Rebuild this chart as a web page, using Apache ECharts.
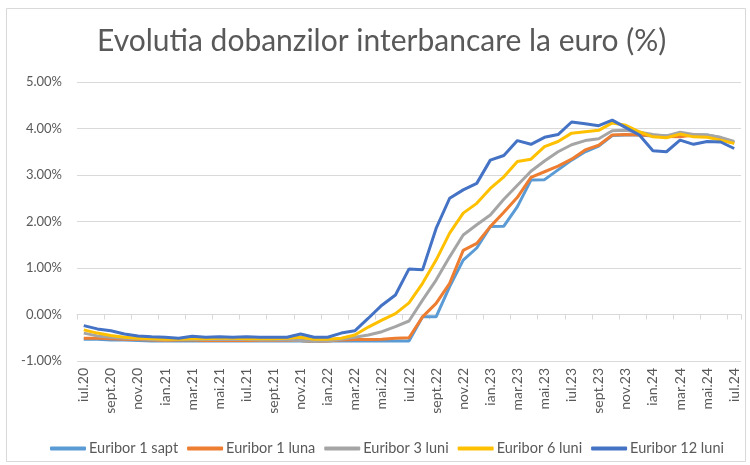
<!DOCTYPE html>
<html>
<head>
<meta charset="utf-8">
<script src="https://cdn.jsdelivr.net/npm/echarts@6/dist/echarts.min.js"></script>
<style>html,body{margin:0;padding:0;background:#fff}#c{width:750px;height:465px}</style>
</head>
<body>
<div id="c"></div>
<script>
const categories = ['iul.20','aug.20','sept.20','oct.20','nov.20','dec.20',
 'ian.21','feb.21','mar.21','apr.21','mai.21','iun.21','iul.21','aug.21','sept.21','oct.21','nov.21','dec.21',
 'ian.22','feb.22','mar.22','apr.22','mai.22','iun.22','iul.22','aug.22','sept.22','oct.22','nov.22','dec.22',
 'ian.23','feb.23','mar.23','apr.23','mai.23','iun.23','iul.23','aug.23','sept.23','oct.23','nov.23','dec.23',
 'ian.24','feb.24','mar.24','apr.24','mai.24','iun.24','iul.24'];

const euribor1Sapt = [-0.53,-0.53,-0.55,-0.55,-0.56,-0.57,-0.57,-0.57,-0.57,-0.57,-0.57,-0.57,-0.57,-0.57,-0.57,-0.57,-0.57,-0.58,
 -0.57,-0.57,-0.57,-0.57,-0.57,-0.57,-0.57,-0.05,-0.05,0.60,1.17,1.43,1.89,1.90,2.32,2.89,2.90,3.11,3.32,3.50,3.62,3.85,3.86,3.86,
 3.84,3.84,3.86,3.86,3.86,3.80,3.70];
const euribor1Luna = [-0.51,-0.51,-0.52,-0.53,-0.54,-0.55,-0.56,-0.55,-0.55,-0.56,-0.56,-0.56,-0.56,-0.56,-0.56,-0.56,-0.56,-0.58,
 -0.57,-0.55,-0.54,-0.54,-0.53,-0.51,-0.50,-0.05,0.24,0.67,1.38,1.53,1.89,2.20,2.52,2.95,3.07,3.19,3.34,3.54,3.64,3.86,3.87,3.86,
 3.85,3.83,3.82,3.86,3.85,3.75,3.69];
const euribor3Luni = [-0.40,-0.46,-0.49,-0.51,-0.52,-0.54,-0.55,-0.54,-0.54,-0.54,-0.54,-0.54,-0.54,-0.55,-0.55,-0.55,-0.56,-0.58,
 -0.57,-0.53,-0.49,-0.44,-0.37,-0.26,-0.14,0.31,0.74,1.24,1.71,1.93,2.14,2.48,2.78,3.08,3.30,3.50,3.65,3.74,3.78,3.95,3.96,3.92,
 3.87,3.84,3.92,3.87,3.86,3.81,3.72];
const euribor6Luni = [-0.33,-0.40,-0.45,-0.49,-0.51,-0.52,-0.53,-0.53,-0.52,-0.52,-0.51,-0.51,-0.52,-0.52,-0.52,-0.51,-0.49,-0.53,
 -0.53,-0.51,-0.44,-0.27,-0.12,0.02,0.25,0.67,1.17,1.75,2.18,2.39,2.71,2.96,3.29,3.34,3.61,3.72,3.90,3.93,3.96,4.12,4.07,3.93,
 3.82,3.80,3.88,3.82,3.81,3.75,3.68];
const euribor12Luni = [-0.24,-0.31,-0.35,-0.42,-0.46,-0.48,-0.49,-0.51,-0.47,-0.49,-0.48,-0.49,-0.48,-0.49,-0.49,-0.49,-0.42,-0.49,
 -0.49,-0.40,-0.35,-0.08,0.20,0.42,0.98,0.96,1.85,2.50,2.68,2.82,3.32,3.42,3.74,3.66,3.81,3.87,4.14,4.10,4.06,4.18,4.02,3.86,
 3.52,3.50,3.75,3.66,3.72,3.71,3.57];

const seriesNames = ['Euribor 1 sapt','Euribor 1 luna','Euribor 3 luni','Euribor 6 luni','Euribor 12 luni'];
const seriesData = [euribor1Sapt, euribor1Luna, euribor3Luni, euribor6Luni, euribor12Luni];
const colors = ['#5B9BD5','#ED7D31','#A5A5A5','#FFC000','#4472C4'];

const FONT = 'Lato, "Open Sans", sans-serif';
const chart = echarts.init(document.getElementById('c'), null, {renderer:'canvas'});
chart.setOption({
  animation:false,
  backgroundColor:'#fff',
  color: colors,
  title:{
    text:'Evolutia dobanzilor interbancare la euro (%)',
    left:97, top:26, padding:0,
    textStyle:{fontFamily:FONT, fontSize:30, fontWeight:'normal', color:'#595959'}
  },
  graphic:[{type:'rect', shape:{x:6.5,y:8.5,width:739,height:453}, style:{fill:null, stroke:'#d9d9d9', lineWidth:1}, silent:true}],
  legend:{
    bottom:4, left:45,
    icon:'roundRect', itemWidth:36, itemHeight:4, itemGap:9,
    textStyle:{fontFamily:FONT, fontSize:14.5, color:'#595959', padding:[0,0,0,-2]},
    data: seriesNames
  },
  grid:{left:77, right:9, top:82, bottom:104, containLabel:false},
  xAxis:{
    type:'category', data:categories, boundaryGap:true,
    axisLine:{lineStyle:{color:'#d9d9d9'}},
    axisTick:{show:true, interval:1, length:5, lineStyle:{color:'#d9d9d9'}},
    axisLabel:{interval:1, rotate:90, margin:7, fontFamily:FONT, fontSize:14, color:'#595959'}
  },
  yAxis:{
    type:'value', min:-1, max:5, interval:1,
    axisLine:{show:false}, axisTick:{show:false},
    splitLine:{lineStyle:{color:'#d9d9d9', width:1}},
    axisLabel:{margin:15, fontFamily:FONT, fontSize:13, color:'#595959', formatter:v=>v.toFixed(2)+'%'}
  },
  series: seriesData.map((d,i)=>({
    name:seriesNames[i], type:'line', data:d, symbol:'none',
    lineStyle:{width:3, color:colors[i]}, itemStyle:{color:colors[i]}
  }))
});
</script>
</body>
</html>
